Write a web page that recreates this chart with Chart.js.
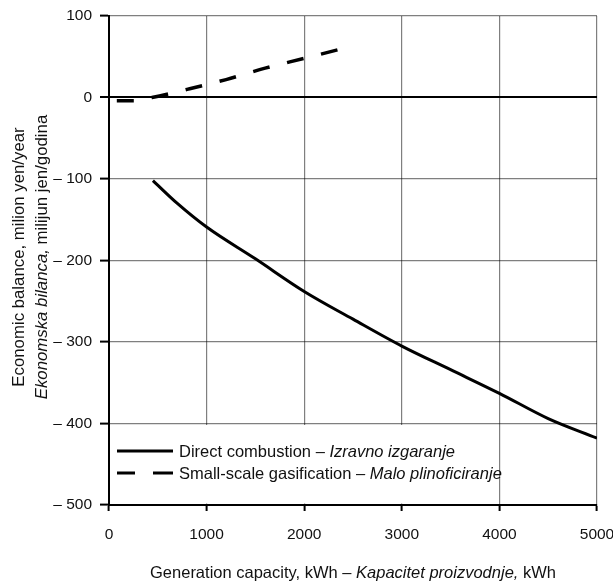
<!DOCTYPE html>
<html>
<head>
<meta charset="utf-8">
<script src="https://cdn.jsdelivr.net/npm/chart.js@4/dist/chart.umd.min.js"></script>
<style>
html,body{margin:0;padding:0;background:#fff;}
#wrap{position:relative;width:613px;height:584px;}
</style>
</head>
<body>
<div id="wrap"><canvas id="c" width="613" height="584"></canvas></div>
<script>
// Data
const directX = [450, 700, 1000, 1500, 2000, 2500, 3000, 3500, 4000, 4500, 5000];
const directY = [-102, -130, -159, -198, -238, -272, -305, -334, -363, -394, -418];
const gasX = [80, 250, 440, 800, 1200, 1600, 2000, 2360];
const gasY = [-4, -4, 0, 10, 22, 36, 48, 59];
const xTicks = [0, 1000, 2000, 3000, 4000, 5000];
const yTicks = [100, 0, -100, -200, -300, -400, -500];

const legendItems = [
  {normal: 'Direct combustion – ', italic: 'Izravno izgaranje', dash: false},
  {normal: 'Small-scale gasification – ', italic: 'Malo plinoficiranje', dash: true}
];
const xTitleParts = [['Generation capacity, kWh – ', false], ['Kapacitet proizvodnje,', true], [' kWh', false]];
const yTitle1 = [['Economic balance, milion yen/year', false]];
const yTitle2 = [['Ekonomska bilanca,', true], [' milijun jen/godina', false]];

const TICK_FONT = "'Liberation Sans', Arial, sans-serif";
const TEXT_FONT = "'Liberation Sans', Arial, sans-serif";
const GRID = 'rgba(0,0,0,0.5)';

function drawParts(ctx, parts, x, y, size, center) {
  let total = 0;
  parts.forEach(p => { ctx.font = (p[1] ? 'italic ' : '') + size + 'px ' + TEXT_FONT; total += ctx.measureText(p[0]).width; });
  let cx = center ? x - total / 2 : x;
  ctx.textAlign = 'left';
  ctx.textBaseline = 'alphabetic';
  parts.forEach(p => {
    ctx.font = (p[1] ? 'italic ' : '') + size + 'px ' + TEXT_FONT;
    ctx.fillText(p[0], cx, y);
    cx += ctx.measureText(p[0]).width;
  });
}

const legendBox = {
  id: 'legendBox',
  beforeDatasetsDraw(chart) {
    const ctx = chart.ctx;
    const xs = chart.scales.x, ys = chart.scales.y;
    const left = chart.chartArea.left + 1.5;
    const right = xs.getPixelForValue(4000) - 3;
    const top = ys.getPixelForValue(-400) + 1.5;
    const bottom = ys.getPixelForValue(-500) - 1.5;
    ctx.save();
    ctx.fillStyle = '#fff';
    ctx.fillRect(left, top, right - left, bottom - top);
    ctx.restore();
  },
  afterDatasetsDraw(chart) {
    const ctx = chart.ctx;
    const x0 = chart.chartArea.left + 8;
    const ys = chart.scales.y;
    const baseY = ys.getPixelForValue(-400);
    ctx.save();
    legendItems.forEach((it, i) => {
      const ly = baseY + 27.5 + i * 22;
      ctx.strokeStyle = '#000';
      ctx.lineWidth = 3;
      ctx.beginPath();
      if (it.dash) {
        ctx.moveTo(x0, ly); ctx.lineTo(x0 + 18, ly);
        ctx.moveTo(x0 + 36, ly); ctx.lineTo(x0 + 56, ly);
      } else {
        ctx.moveTo(x0, ly); ctx.lineTo(x0 + 56, ly);
      }
      ctx.stroke();
      ctx.fillStyle = '#111';
      drawParts(ctx, [[it.normal, false], [it.italic, true]], x0 + 62, ly + 6, 16.5, false);
    });
    ctx.restore();
  },
  afterDraw(chart) {
    const ctx = chart.ctx;
    const ca = chart.chartArea;
    ctx.save();
    ctx.fillStyle = '#111';
    drawParts(ctx, xTitleParts, (ca.left + ca.right) / 2, 578, 16.5, true);
    const yc = 257;
    ctx.translate(24, yc);
    ctx.rotate(-Math.PI / 2);
    drawParts(ctx, yTitle1, 0, 0, 16.8, true);
    drawParts(ctx, yTitle2, 0, 22.5, 16.8, true);
    ctx.restore();
  }
};

const ctx = document.getElementById('c').getContext('2d');
new Chart(ctx, {
  type: 'line',
  data: {
    datasets: [
      {
        label: 'Direct combustion – Izravno izgaranje',
        data: directX.map((x, i) => ({x, y: directY[i]})),
        borderColor: '#000', borderWidth: 3, pointRadius: 0,
        tension: 0.3, cubicInterpolationMode: 'monotone', fill: false
      },
      {
        label: 'Small-scale gasification – Malo plinoficiranje',
        data: gasX.map((x, i) => ({x, y: gasY[i]})),
        borderColor: '#000', borderWidth: 3.5, pointRadius: 0,
        borderDash: [17, 18], borderCapStyle: 'butt',
        tension: 0.2, cubicInterpolationMode: 'monotone', fill: false
      }
    ]
  },
  options: {
    responsive: false,
    animation: false,
    devicePixelRatio: 1,
    layout: {padding: {top: 16, right: 16, left: 0, bottom: 0}},
    plugins: {legend: {display: false}, tooltip: {enabled: false}},
    scales: {
      x: {
        type: 'linear', min: 0, max: 5000,
        afterBuildTicks(s) { s.ticks = xTicks.map(v => ({value: v})); },
        afterFit(s) { s.paddingLeft = 0; s.paddingRight = 0; s.height = 79; },
        ticks: {color: '#111', padding: 14, maxRotation: 0, autoSkip: false,
          font: {family: TICK_FONT, size: 15.5}, callback: v => String(v)},
        grid: {color: GRID, lineWidth: 1.2, tickColor: '#000', tickLength: 6, tickWidth: 2},
        border: {color: '#000', width: 2}
      },
      y: {
        type: 'linear', min: -500, max: 100,
        afterBuildTicks(s) { s.ticks = yTicks.slice().reverse().map(v => ({value: v})); },
        afterFit(s) { s.width = 109; s.paddingTop = 0; s.paddingBottom = 0; },
        ticks: {color: '#111', padding: 8, autoSkip: false,
          font: {family: TICK_FONT, size: 15.5},
          callback: v => v < 0 ? '– ' + Math.abs(v) : String(v)},
        grid: {
          color: c => (c.tick && c.tick.value === 0) ? '#000' : GRID,
          lineWidth: c => (c.tick && c.tick.value === 0) ? 2 : 1.2,
          tickColor: '#000', tickLength: 9, tickWidth: 2
        },
        border: {color: '#000', width: 2}
      }
    }
  },
  plugins: [legendBox]
});
</script>
</body>
</html>
